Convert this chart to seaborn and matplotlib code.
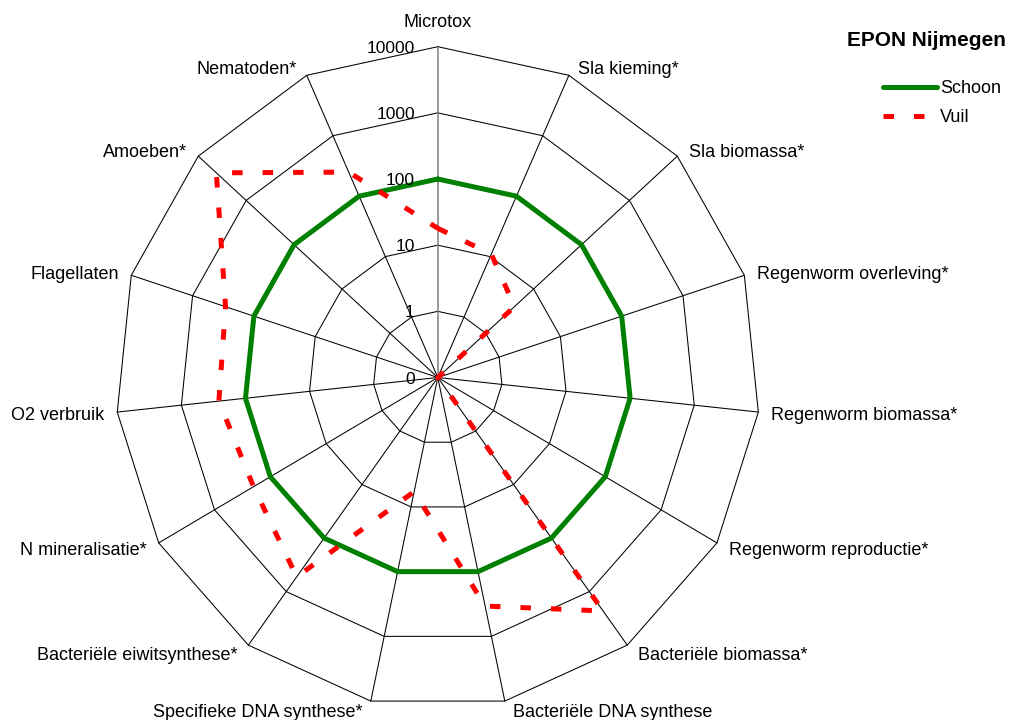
import numpy as np
import pandas as pd
import matplotlib
matplotlib.use("Agg")
import matplotlib.pyplot as plt
import seaborn as sns
from matplotlib.lines import Line2D

# ---------------- data ----------------
categories = ["Microtox", "Sla kieming*", "Sla biomassa*", "Regenworm overleving*",
              "Regenworm biomassa*", "Regenworm reproductie*", "Bacteriële biomassa*",
              "Bacteriële DNA synthese", "Specifieke DNA synthese*",
              "Bacteriële eiwitsynthese*", "N mineralisatie*", "O2 verbruik",
              "Flagellaten", "Amoeben*", "Nematoden*"]
schoon = [100, 100, 100, 100, 100, 100, 100, 100, 100, 100, 100, 100, 100, 100, 100]
vuil = [18, 11, 4, 0, 0, 0, 2300, 340, 5.8, 530, 200, 260, 290, 4200, 250]
tick_values = [0, 1, 10, 100, 1000, 10000]
tick_labels = ["0", "1", "10", "100", "1000", "10000"]
title = "EPON Nijmegen"
series_names = ["Schoon", "Vuil"]

# ---------------- style ----------------
sns.set_style("white")
plt.rcParams['font.family'] = ['Liberation Sans', 'DejaVu Sans']
plt.rcParams['text.color'] = 'black'

W, H = 1015, 720
fig = plt.figure(figsize=(W / 100, H / 100), dpi=100)
ax = fig.add_axes([0, 0, 1, 1])
ax.set_axis_off()

cx, cy = 437.8, 377.5          # centre in pixels
ux, uy = 64.46, 66.16          # pixels per ring unit (x, y)
ax.set_xlim(-cx / ux, (W - cx) / ux)
ax.set_ylim(-(H - cy) / uy, cy / uy)

n = len(categories)
theta = np.deg2rad(np.arange(n) * 360.0 / n)


def to_r(v):
    v = np.asarray(v, dtype=float)
    out = np.zeros_like(v)
    pos = v > 0
    out[pos] = np.log10(v[pos]) + 1
    return out


nrings = len(tick_values) - 1
# rings
for k in range(1, nrings + 1):
    xs = np.append(k * np.sin(theta), 0)
    ys = np.append(k * np.cos(theta), k)
    ax.plot(xs, ys, color="black", lw=0.75, zorder=1)
# spokes
for i, t in enumerate(theta):
    if i == 0:
        continue
    ax.plot([0, nrings * np.sin(t)], [0, nrings * np.cos(t)], color="black", lw=0.75, zorder=1)
ax.plot([0, 0], [0, nrings], color="#808080", lw=1.1, zorder=1.5)

# series
def closed_xy(vals):
    r = to_r(vals)
    x = r * np.sin(theta)
    y = r * np.cos(theta)
    return np.append(x, x[0]), np.append(y, y[0])

xs, ys = closed_xy(schoon)
sns.lineplot(x=xs, y=ys, sort=False, estimator=None, ax=ax, color="#008000",
             lw=3.6, zorder=3, solid_joinstyle="miter")
xs, ys = closed_xy(vuil)
sns.lineplot(x=xs, y=ys, sort=False, estimator=None, ax=ax, color="#FF0000",
             lw=3.6, zorder=4, linestyle=(0, (2.1, 4.0)), dash_capstyle="butt")

# tick labels
for v, lab in zip(tick_values, tick_labels):
    r = to_r([v])[0]
    ax.annotate(lab, xy=(0, r), xytext=(-23, -6), textcoords="offset pixels",
                ha="right", va="baseline", fontsize=12.5, color="black", zorder=6)

# category labels
for i, (lab, t) in enumerate(zip(categories, theta)):
    vx, vy = nrings * np.sin(t), nrings * np.cos(t)
    if i == 0:
        ax.annotate(lab, xy=(vx, vy), xytext=(0, 20), textcoords="offset pixels",
                    ha="center", va="baseline", fontsize=13, zorder=6)
        continue
    s = np.sin(t)
    dx = (7 + 6 * abs(s)) * np.sign(s)
    dy = -(7 - 9.5 * np.cos(t))
    ax.annotate(lab, xy=(vx, vy), xytext=(dx, dy), textcoords="offset pixels",
                ha="left" if s > 0 else "right", va="baseline", fontsize=13, zorder=6)

# legend
fig.text(926 / W, 1 - 41 / H, title, ha="center", va="center",
         fontsize=15, fontweight="bold")
handles = [Line2D([], [], color="#008000", lw=3.6, solid_capstyle="round"),
           Line2D([], [], color="#FF0000", lw=3.6, linestyle=(0, (2.1, 4.0)),
                  dash_capstyle="butt")]
leg = fig.legend(handles, series_names, loc="upper left",
                 bbox_to_anchor=(883 / W, 1 - 80 / H), frameon=False,
                 fontsize=13, handlelength=3.0, handletextpad=0.17,
                 borderpad=0, borderaxespad=0, labelspacing=0.66)

fig.savefig("out.png", dpi=100)
